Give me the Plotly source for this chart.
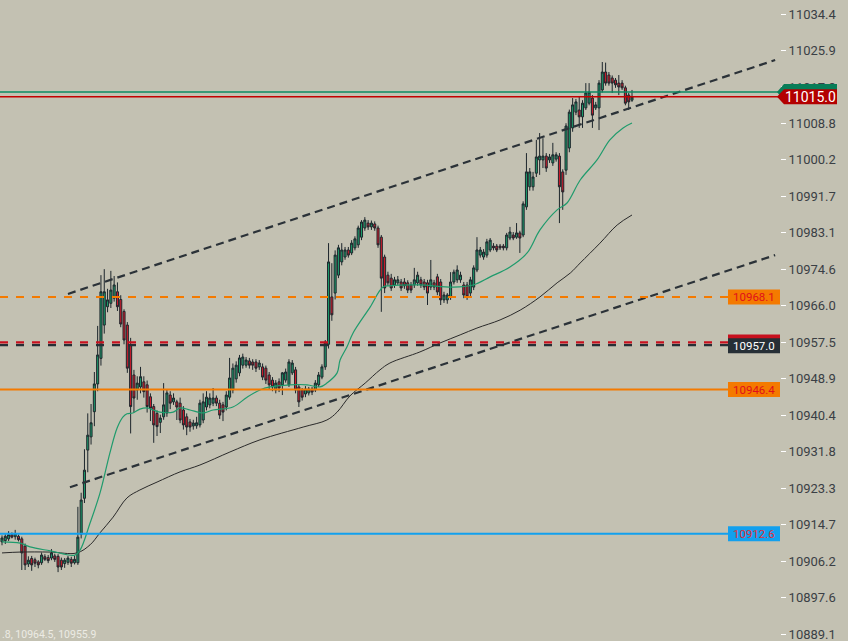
import plotly.graph_objects as go

# candles (oldest first)
opens = [10910.7, 10911.0, 10911.4, 10912.4, 10911.9, 10912.0, 10911.4, 10909.7, 10905.5, 10906.8,
         10906.5, 10906.0, 10905.8, 10907.2, 10907.0, 10906.9, 10907.4, 10907.3, 10906.4, 10905.6,
         10905.9, 10906.6, 10905.8, 10905.8, 10912.5, 10920.9, 10932.2, 10935.3, 10941.2, 10947.7,
         10953.7, 10961.5, 10965.8, 10966.6, 10967.8, 10969.3, 10967.5, 10964.7, 10961.5, 10956.8,
         10949.8, 10946.3, 10947.0, 10948.2, 10947.5, 10944.7, 10942.4, 10940.8, 10938.7, 10940.0,
         10940.9, 10945.1, 10943.5, 10943.5, 10943.2, 10941.6, 10940.0, 10938.8, 10937.85, 10937.9,
         10938.1, 10939.25, 10942.3, 10942.8, 10943.2, 10944.4, 10943.2, 10942.8, 10942.3, 10944.6,
         10946.3, 10948.9, 10950.3, 10952.1, 10952.1, 10953.1, 10952.85, 10952.85, 10951.7, 10951.7,
         10951.4, 10949.8, 10948.6, 10946.3, 10948.2, 10947.5, 10948.6, 10947.5, 10950.3, 10951.0,
         10947.0, 10946.3, 10945.35, 10945.6, 10946.5, 10946.3, 10947.5, 10949.3, 10951.7, 10957.0,
         10968.1, 10969.0, 10973.2, 10976.3, 10977.45, 10979.1, 10978.4, 10979.6, 10980.3, 10982.1,
         10984.25, 10985.4, 10984.5, 10985.2, 10984.25, 10982.1, 10977.45, 10973.2, 10972.5, 10970.9,
         10971.4, 10971.6, 10971.6, 10971.4, 10970.9, 10970.9, 10971.4, 10972.1, 10971.6, 10971.4,
         10970.4, 10971.4, 10972.8, 10971.6, 10967.4, 10967.4, 10968.1, 10971.6, 10972.1, 10972.1,
         10970.9, 10970.9, 10969.0, 10970.4, 10974.4, 10977.9, 10977.45, 10977.9, 10979.1, 10980.0,
         10980.0, 10980.0, 10980.0, 10979.6, 10981.9, 10982.6, 10982.1, 10983.1, 10982.6, 10989.2,
         10993.9, 10993.9, 10997.1, 11000.2, 11000.2, 11001.1, 11000.2, 10999.5, 11000.4, 11001.1,
         10997.4, 10997.8, 11003.0, 11007.7, 11011.4, 11011.9, 11010.3, 11012.4, 11013.5, 11014.7,
         11012.4, 11012.4, 11016.6, 11020.8, 11020.1, 11019.4, 11018.9, 11018.2, 11018.2, 11017.1,
         11015.4, 11014.2]
highs = [10912.2, 10912.5, 10913.2, 10912.9, 10913.5, 10912.4, 10911.9, 10910.3, 10907.3, 10907.4,
         10907.0, 10906.4, 10908.2, 10907.8, 10907.6, 10909.0, 10907.9, 10907.8, 10907.0, 10906.9,
         10907.4, 10907.2, 10907.4, 10918.9, 10922.2, 10932.4, 10940.8, 10943.0, 10950.5, 10961.3,
         10973.2, 10974.6, 10970.0, 10974.2, 10973.0, 10971.5, 10968.5, 10965.2, 10962.2, 10958.5,
         10951.0, 10949.5, 10951.7, 10949.5, 10948.5, 10945.5, 10943.0, 10941.5, 10940.5, 10947.9,
         10946.5, 10946.0, 10945.5, 10944.0, 10944.5, 10942.5, 10940.8, 10939.5, 10939.3, 10940.0,
         10944.0, 10945.5, 10946.0, 10945.5, 10946.75, 10945.0, 10944.0, 10943.5, 10946.0, 10953.8,
         10952.5, 10953.0, 10954.5, 10954.8, 10954.0, 10953.8, 10953.5, 10953.5, 10953.3, 10952.5,
         10952.0, 10950.5, 10949.3, 10948.6, 10949.0, 10950.5, 10951.3, 10953.5, 10953.3, 10951.7,
         10947.5, 10946.75, 10947.2, 10947.0, 10947.0, 10948.6, 10950.5, 10952.3, 10958.0, 10980.7,
         10976.0, 10979.0, 10980.3, 10980.7, 10979.8, 10979.8, 10981.4, 10982.3, 10984.8, 10986.1,
         10986.8, 10986.1, 10986.0, 10985.8, 10984.8, 10982.6, 10978.0, 10974.0, 10973.5, 10972.8,
         10973.0, 10972.3, 10972.5, 10972.0, 10971.6, 10974.9, 10974.0, 10972.8, 10972.3, 10972.1,
         10976.75, 10972.1, 10973.5, 10972.3, 10969.3, 10969.0, 10973.9, 10974.5, 10975.5, 10974.0,
         10971.6, 10971.6, 10972.8, 10975.5, 10982.1, 10979.8, 10979.3, 10981.7, 10981.9, 10980.7,
         10980.5, 10980.5, 10980.5, 10983.1, 10984.5, 10983.3, 10985.4, 10983.6, 10990.5, 11001.8,
         10998.3, 10997.4, 11004.9, 11006.5, 11005.3, 11001.8, 11001.6, 11004.2, 11002.0, 11001.8,
         10998.0, 11008.8, 11012.0, 11014.7, 11014.5, 11014.95, 11014.2, 11018.2, 11018.2, 11015.4,
         11013.8, 11018.9, 11023.15, 11023.0, 11020.8, 11020.0, 11019.4, 11020.1, 11018.9, 11017.6,
         11015.9, 11016.6]
lows = [10909.9, 10910.2, 10910.9, 10911.5, 10911.2, 10910.8, 10904.1, 10904.1, 10904.8, 10903.9,
        10904.8, 10904.5, 10905.3, 10906.2, 10905.7, 10906.4, 10906.0, 10903.6, 10904.1, 10904.6,
        10905.3, 10904.8, 10905.4, 10905.3, 10911.5, 10919.8, 10927.0, 10933.5, 10937.8, 10946.0,
        10952.0, 10959.5, 10964.5, 10965.5, 10967.0, 10964.8, 10961.0, 10957.0, 10950.3, 10936.1,
        10941.0, 10944.0, 10945.5, 10944.5, 10941.0, 10939.0, 10933.9, 10935.5, 10936.2, 10939.3,
        10940.0, 10941.8, 10942.8, 10939.25, 10938.5, 10937.0, 10935.7, 10936.5, 10937.0, 10937.2,
        10937.5, 10938.5, 10941.5, 10942.0, 10942.5, 10942.5, 10939.5, 10939.0, 10941.5, 10944.0,
        10945.5, 10948.0, 10949.5, 10951.3, 10951.5, 10951.3, 10951.0, 10950.5, 10951.0, 10948.6,
        10947.7, 10946.5, 10946.0, 10945.5, 10945.8, 10945.1, 10948.0, 10947.0, 10949.8, 10945.5,
        10942.3, 10943.8, 10944.6, 10945.0, 10945.1, 10945.8, 10947.0, 10948.8, 10951.0, 10956.0,
        10962.5, 10967.5, 10972.5, 10975.5, 10976.8, 10977.3, 10977.9, 10979.0, 10979.6, 10981.4,
        10983.6, 10983.8, 10983.8, 10983.6, 10979.6, 10964.6, 10969.0, 10970.7, 10969.5, 10970.2,
        10970.9, 10969.5, 10970.0, 10969.0, 10969.0, 10970.2, 10970.7, 10970.2, 10969.7, 10966.2,
        10969.7, 10969.7, 10968.5, 10966.2, 10966.7, 10966.5, 10967.4, 10971.0, 10971.4, 10971.4,
        10967.8, 10967.4, 10968.3, 10969.7, 10973.9, 10977.3, 10976.8, 10977.3, 10978.6, 10979.0,
        10978.6, 10979.1, 10979.0, 10979.0, 10981.4, 10981.4, 10981.7, 10978.4, 10982.1, 10988.5,
        10993.0, 10993.0, 10996.2, 10996.7, 10998.3, 10997.4, 10999.5, 10998.8, 10999.8, 10985.4,
        10988.5, 10996.7, 11002.0, 11006.8, 11010.7, 11007.7, 11007.7, 11011.9, 11013.0, 11007.7,
        11011.9, 11007.2, 11016.0, 11017.6, 11017.6, 11015.9, 11017.1, 11015.4, 11016.6, 11013.0,
        11011.9, 11013.8]
closes = [10911.6, 10912.0, 10912.4, 10911.8, 10912.6, 10911.2, 10908.1, 10905.3, 10906.4, 10905.3,
          10905.7, 10905.3, 10907.6, 10906.6, 10906.3, 10908.1, 10906.6, 10904.8, 10904.8, 10906.4,
          10906.9, 10905.7, 10906.6, 10911.8, 10920.5, 10927.5, 10935.7, 10938.6, 10947.7, 10954.5,
          10969.3, 10969.3, 10967.4, 10969.7, 10970.9, 10965.8, 10961.75, 10958.0, 10951.4, 10942.4,
          10944.4, 10947.9, 10949.4, 10945.9, 10942.4, 10942.0, 10938.1, 10937.7, 10939.7, 10942.8,
          10945.6, 10943.2, 10944.4, 10942.3, 10939.25, 10938.1, 10937.6, 10937.6, 10938.55, 10938.6,
          10943.2, 10943.5, 10944.6, 10944.4, 10944.4, 10943.2, 10940.4, 10941.1, 10945.1, 10949.1,
          10951.4, 10952.1, 10953.8, 10954.0, 10953.3, 10952.1, 10952.1, 10951.4, 10952.6, 10949.3,
          10948.6, 10947.5, 10947.0, 10947.9, 10946.75, 10950.3, 10950.5, 10952.85, 10952.6, 10946.3,
          10943.5, 10944.6, 10946.5, 10946.5, 10945.8, 10947.9, 10949.8, 10951.7, 10957.5, 10976.3,
          10963.9, 10977.9, 10979.6, 10979.1, 10979.1, 10977.9, 10980.7, 10981.7, 10984.25, 10985.65,
          10986.1, 10984.5, 10985.4, 10984.25, 10980.3, 10972.5, 10970.2, 10971.4, 10970.2, 10972.1,
          10972.1, 10970.2, 10970.7, 10969.7, 10969.7, 10972.1, 10973.2, 10970.9, 10970.4, 10969.0,
          10972.1, 10970.4, 10969.25, 10967.4, 10968.55, 10968.55, 10971.6, 10973.9, 10974.4, 10973.2,
          10968.55, 10968.1, 10972.1, 10974.9, 10979.1, 10979.1, 10978.6, 10981.0, 10981.4, 10979.6,
          10979.1, 10979.6, 10979.6, 10982.6, 10983.3, 10981.9, 10983.1, 10981.9, 10989.9, 10997.4,
          10997.4, 10996.2, 11000.9, 11001.1, 11001.1, 10998.3, 11000.9, 11001.4, 11001.4, 10993.9,
          10992.7, 11008.15, 11011.4, 11013.1, 11013.8, 11010.3, 11013.5, 11015.9, 11016.1, 11010.7,
          11013.1, 11018.2, 11020.8, 11018.2, 11018.2, 11018.2, 11017.8, 11017.3, 11017.1, 11013.5,
          11013.8, 11014.95]

# moving averages, read at points along the lines (bar position, price)
fast_ma_at = [0, 5.5, 8.5, 14.6, 22.1, 23.7, 26.7, 29.7, 32.7, 34.9, 36.7, 37.9, 39.7, 41.8,
              44.0, 45.8, 47.9, 51.9, 54.0, 57.0, 60.9, 64.0, 70.0, 74.3, 78.2, 81.3, 87.3,
              92.5, 96.4, 98.5, 101.6, 102.5, 104.6, 106.4, 111.6, 115.5, 117.6, 126.7, 136.8,
              142.8, 148.0, 154.0, 159.2, 163.1, 168.3, 171.3, 175.3, 180.4, 184.3, 188.3, 191.0]
fast_ma = [10910.7, 10910.4, 10909.5, 10908.6, 10907.6, 10908.8, 10915.1, 10922.1, 10931.5,
           10937.4, 10940.0, 10940.7, 10940.9, 10941.8, 10942.1, 10941.6, 10941.1, 10941.1,
           10942.1, 10941.6, 10940.9, 10941.6, 10942.3, 10944.6, 10946.3, 10947.0, 10947.5,
           10947.5, 10947.0, 10947.9, 10950.3, 10953.3, 10956.4, 10959.6, 10965.7, 10970.4,
           10970.7, 10970.9, 10970.4, 10970.9, 10972.8, 10975.1, 10978.4, 10983.8, 10988.5,
           10990.1, 10995.5, 11000.2, 11004.9, 11007.7, 11008.85]
slow_ma_at = [0, 5.5, 14.6, 22.7, 26.7, 29.7, 33.7, 37.9, 41.8, 47.0, 54.0, 60.0, 69.1, 78.2,
              91.3, 98.5, 101.6, 105.5, 110.1, 114.6, 117.6, 126.7, 132.8, 138.9, 144.0, 151.0,
              157.1, 163.1, 168.3, 172.3, 175.3, 181.3, 186.5, 191.0]
slow_ma = [10908.1, 10908.3, 10908.3, 10908.1, 10910.0, 10912.8, 10916.5, 10921.0, 10922.85,
           10924.7, 10927.1, 10928.7, 10931.75, 10934.6, 10937.6, 10939.25, 10941.1, 10944.9,
           10947.9, 10951.0, 10952.6, 10955.2, 10957.3, 10959.2, 10960.8, 10962.7, 10965.0,
           10968.1, 10971.4, 10973.7, 10976.05, 10980.7, 10984.95, 10987.3]

# channel lines (bar position, price)
upper_trend_at = [20.0, 234.4]
upper_trend = [10968.8, 11023.6]
lower_trend_at = [20.6, 234.4]
lower_trend = [10923.5, 10977.9]

# horizontal levels
orange_dash_level = 10968.1
red_dash_level = 10957.0
orange_level = 10946.4
blue_level = 10912.6
ask_level = 11016.1
bid_level = 11015.0

price_ticks = [11034.4, 11025.9, 11017.3, 11008.8, 11000.2, 10991.7, 10983.1, 10974.6, 10966.0,
               10957.5, 10948.9, 10940.4, 10931.8, 10923.3, 10914.7, 10906.2, 10897.6, 10889.1]
info_text = ".8, 10964.5, 10955.9"

BG = "#c3c1b2"
UP = "#1c9a6a"
DOWN = "#d41c2c"
EDGE = "#1d262c"
ORANGE = "#f47a00"
BLUE = "#12a0ee"
DARK = "#262f36"
FONT = "Roboto"

n = len(closes)
bars = list(range(n))
step = 630 / (n - 1)          # pixels per bar
plot_w = 780                  # plot area width in pixels
box_half = 1.76               # half height of level boxes, in price units

fig = go.Figure()

fig.add_trace(go.Candlestick(
    x=bars, open=opens, high=highs, low=lows, close=closes,
    increasing=dict(fillcolor=UP, line=dict(color=EDGE, width=1)),
    decreasing=dict(fillcolor=DOWN, line=dict(color=EDGE, width=1)),
    whiskerwidth=0, hoverinfo="skip", showlegend=False))

fig.add_trace(go.Scatter(x=slow_ma_at, y=slow_ma, mode="lines",
                         line=dict(color="#2a2a2a", width=1, shape="spline"),
                         hoverinfo="skip", showlegend=False))
fig.add_trace(go.Scatter(x=fast_ma_at, y=fast_ma, mode="lines",
                         line=dict(color="#1f9b6c", width=1.2, shape="spline"),
                         hoverinfo="skip", showlegend=False))

for xs, ys in [(upper_trend_at, upper_trend), (lower_trend_at, lower_trend)]:
    fig.add_trace(go.Scatter(x=xs, y=ys, mode="lines",
                             line=dict(color="#2b3238", width=2.2, dash="8px,5px"),
                             hoverinfo="skip", showlegend=False))

shapes = []


def hline(y, color, width, dash="solid"):
    shapes.append(dict(type="line", xref="paper", yref="y", x0=0, x1=1, y0=y, y1=y,
                       line=dict(color=color, width=width, dash=dash)))


hline(orange_dash_level, ORANGE, 2, "8px,8px")
hline(red_dash_level + 0.45, "#c8101e", 2.4, "8px,8px")
hline(red_dash_level - 0.2, DARK, 2.4, "8px,8px")
hline(orange_level, ORANGE, 2)
hline(blue_level, BLUE, 2)
hline(ask_level, "#0b8a62", 1.5)
hline(bid_level, "#c40000", 1.5)

annotations = []
bx0 = 728 / plot_w


def level_box(y, fill, text, text_color):
    shapes.append(dict(type="rect", xref="paper", yref="y", x0=bx0, x1=1,
                       y0=y - box_half, y1=y + box_half, fillcolor=fill, line=dict(width=0)))
    annotations.append(dict(xref="paper", yref="y", x=(bx0 + 1) / 2, y=y, text=text,
                            xanchor="center", yanchor="middle", showarrow=False,
                            font=dict(family=FONT, size=11.5, color=text_color)))


level_box(orange_dash_level, ORANGE, f"{orange_dash_level:.1f}", "#e0101a")
# red label peeking above the dark one
shapes.append(dict(type="rect", xref="paper", yref="y", x0=bx0, x1=1,
                   y0=red_dash_level, y1=red_dash_level + box_half + 0.55,
                   fillcolor="#c8101e", line=dict(width=0)))
level_box(red_dash_level - 0.35, DARK, f"{red_dash_level:.1f}", "white")
level_box(orange_level, ORANGE, f"{orange_level:.1f}", "#e0101a")
level_box(blue_level, BLUE, f"{blue_level:.1f}", "#e0303a")

# current price tags on the axis
tip, shoulder, right = 777 / plot_w, 784 / plot_w, 837 / plot_w


def price_tag(y, fill, up, down):
    shapes.append(dict(type="path", xref="paper", yref="y", fillcolor=fill, line=dict(width=0),
                       path=f"M {tip},{y} L {shoulder},{y + up} L {right},{y + up} "
                            f"L {right},{y - down} L {shoulder},{y - down} Z"))


price_tag(ask_level, "#087d58", 1.9, 1.9)
price_tag(bid_level, "#b30000", 1.75, 1.75)
annotations.append(dict(xref="paper", yref="y", x=(shoulder + right) / 2, y=bid_level,
                        text=f"{bid_level:.1f}", showarrow=False,
                        xanchor="center", yanchor="middle",
                        font=dict(family=FONT, size=14, color="white")))

annotations.append(dict(xref="paper", yref="paper", x=0, y=0, xanchor="left", yanchor="bottom",
                        text=info_text, showarrow=False, yshift=-2,
                        font=dict(family=FONT, size=10.5, color="#ecebe4")))

fig.update_layout(
    width=848, height=641,
    margin=dict(l=0, r=848 - plot_w, t=0, b=0),
    paper_bgcolor=BG, plot_bgcolor=BG,
    shapes=shapes, annotations=annotations,
    showlegend=False,
    boxgap=0.12,
    xaxis=dict(range=[-2 / step, (plot_w - 2) / step], visible=False,
               rangeslider=dict(visible=False), fixedrange=True),
    yaxis=dict(range=[10887.46, 11037.68], side="right",
               tickvals=price_ticks, ticktext=[f"{v:.1f}" for v in price_ticks],
               ticks="outside", ticklen=5, tickwidth=1.3, tickcolor="white",
               tickfont=dict(family=FONT, size=13, color="#3a3f45"),
               ticklabeloverflow="allow",
               showgrid=False, zeroline=False, showline=False, fixedrange=True),
)

fig.write_html("out.html", config=dict(displayModeBar=False),
               post_script="document.body.style.margin='0';")
